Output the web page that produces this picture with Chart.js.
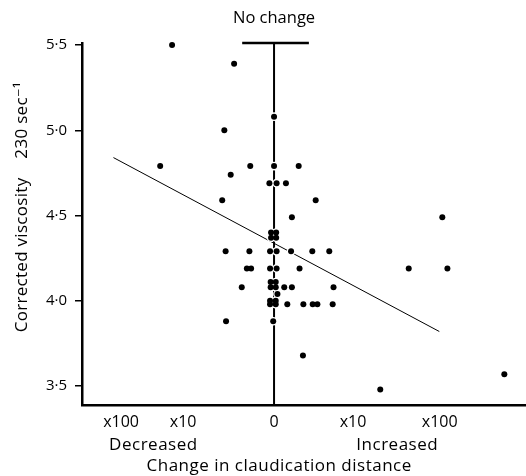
<!DOCTYPE html>
<html>
<head>
<meta charset="utf-8">
<script src="https://cdn.jsdelivr.net/npm/chart.js@4.4.1/dist/chart.umd.min.js"></script>
<style>
  html, body { margin: 0; padding: 0; background: #fff; }
  #wrap { width: 526px; height: 476px; }
</style>
</head>
<body>
<div id="wrap"><canvas id="chart"></canvas></div>
<script>
// tick positions on the (log) change axis and their labels
const xTickValues = [-1.8, -1.07, 0, 0.93, 1.95];
const xTickLabels = ['x100', 'x10', '0', 'x10', 'x100'];
const yTickValues = [3.5, 4.0, 4.5, 5.0, 5.5];
const yTickLabels = ['3·5', '4·0', '4·5', '5·0', '5·5'];
const sideLabels = ['Decreased', 'Increased'];
const sideLabelAt = [-1.42, 1.45];

// patients: change in claudication distance vs corrected viscosity
const changeX = [
  -1.20, -0.47, 0.00, -0.585, -1.34, -0.28, 0.00, 0.29, -0.51,
  -0.055, 0.03, 0.14, -0.61, 0.49, 0.21, 1.98,
  -0.035, 0.025, -0.035, 0.025,
  -0.57, -0.29, -0.047, 0.03, 0.20, 0.45, 0.65,
  -0.32, -0.27, -0.047, 0.03, 0.30, 1.585, 2.04,
  -0.04, 0.02, -0.04, 0.02, 0.12, 0.21, 0.70, -0.38, 0.04,
  -0.047, 0.02, -0.047, 0.02, 0.156, 0.345, 0.455, 0.51, 0.69,
  -0.565, -0.01, 0.34, 1.25, 2.71
];
const viscosity = [
  5.50, 5.39, 5.08, 5.00, 4.79, 4.79, 4.79, 4.79, 4.74,
  4.69, 4.69, 4.69, 4.59, 4.59, 4.49, 4.49,
  4.40, 4.40, 4.37, 4.37,
  4.29, 4.29, 4.29, 4.29, 4.29, 4.29, 4.29,
  4.19, 4.19, 4.19, 4.19, 4.19, 4.19, 4.19,
  4.11, 4.11, 4.08, 4.08, 4.08, 4.08, 4.08, 4.08, 4.04,
  4.00, 4.00, 3.98, 3.98, 3.98, 3.98, 3.98, 3.98, 3.98,
  3.88, 3.88, 3.68, 3.48, 3.57
];

// regression line end points
const fitX = [-1.89, 1.945];
const fitY = [4.84, 3.82];

// "no change" marker: vertical line with a bar on top
const yMin = 3.389, yMax = 5.512;
const barX = [-0.375, 0.41];

const points = changeX.map((x, i) => ({ x: x, y: viscosity[i] }));
const FONT = '"Open Sans", "DejaVu Sans", sans-serif';

const extraText = {
  id: 'extraText',
  afterDraw(chart) {
    const ctx = chart.ctx;
    const xs = chart.scales.x;
    const ys = chart.scales.y;
    ctx.save();
    ctx.fillStyle = '#000';
    ctx.textAlign = 'center';
    ctx.textBaseline = 'middle';
    ctx.font = '16.5px ' + FONT;
    ctx.fillText('No change', xs.getPixelForValue(0), 18);
    ctx.font = '17px ' + FONT;
    ctx.letterSpacing = '0.5px';
    sideLabels.forEach((t, i) => {
      ctx.fillText(t, xs.getPixelForValue(sideLabelAt[i]), 445);
    });
    ctx.fillText('Change in claudication distance', xs.getPixelForValue(0.06), 466);
    // y title
    ctx.letterSpacing = '0.3px';
    ctx.translate(22, ys.getPixelForValue(4.55));
    ctx.rotate(-Math.PI / 2);
    ctx.fillText('Corrected viscosity    230 sec\u207B\u00B9', 0, 0);
    ctx.restore();
  }
};

new Chart(document.getElementById('chart'), {
  type: 'scatter',
  data: {
    datasets: [
      {
        data: points,
        backgroundColor: '#000',
        borderWidth: 0,
        pointRadius: 3,
        clip: false
      },
      {
        // white halo so the marker line breaks around dots
        data: points,
        backgroundColor: '#fff',
        borderWidth: 0,
        pointRadius: 4.3,
        clip: false
      },
      {
        type: 'line',
        data: [{ x: fitX[0], y: fitY[0] }, { x: fitX[1], y: fitY[1] }],
        borderColor: '#000',
        borderWidth: 1,
        pointRadius: 0,
        clip: false
      },
      {
        type: 'line',
        data: [{ x: 0, y: yMin }, { x: 0, y: yMax }],
        borderColor: '#000',
        borderWidth: 2,
        pointRadius: 0,
        clip: false
      },
      {
        type: 'line',
        data: [{ x: barX[0], y: yMax }, { x: barX[1], y: yMax }],
        borderColor: '#000',
        borderWidth: 2.5,
        pointRadius: 0,
        clip: false
      }
    ]
  },
  options: {
    responsive: true,
    maintainAspectRatio: false,
    animation: false,
    layout: { autoPadding: false, padding: { top: 43, right: 0, bottom: 0, left: 0 } },
    plugins: {
      legend: { display: false },
      tooltip: { enabled: false }
    },
    scales: {
      x: {
        type: 'linear',
        min: -2.26,
        max: 2.965,
        afterBuildTicks: (s) => { s.ticks = xTickValues.map(v => ({ value: v })); },
        afterFit: (s) => { s.height = 71; },
        grid: { drawOnChartArea: false, drawTicks: false },
        border: { display: true, color: '#000', width: 2.5 },
        ticks: {
          autoSkip: false,
          maxRotation: 0,
          padding: 8,
          color: '#000',
          font: { family: FONT, size: 16 },
          callback: (v, i) => xTickLabels[i]
        }
      },
      y: {
        type: 'linear',
        min: yMin,
        max: yMax,
        afterBuildTicks: (s) => { s.ticks = yTickValues.map(v => ({ value: v })); },
        afterFit: (s) => { s.width = 82; },
        grid: { drawOnChartArea: false, drawTicks: true, tickLength: 7, color: '#000', lineWidth: 1.5 },
        border: { display: true, color: '#000', width: 2.5 },
        ticks: {
          padding: 8,
          color: '#000',
          font: { family: FONT, size: 15 },
          callback: (v, i) => yTickLabels[i]
        }
      }
    }
  },
  plugins: [extraText]
});
</script>
</body>
</html>
